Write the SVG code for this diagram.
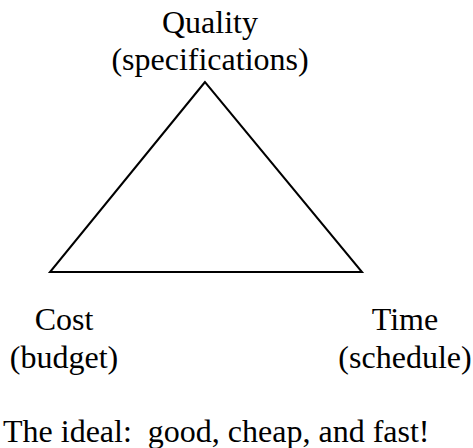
<svg xmlns="http://www.w3.org/2000/svg" width="473" height="448" viewBox="0 0 473 448" font-family="'Liberation Serif', 'DejaVu Serif', 'Times New Roman', Times, serif">
  <style>
    text { font-family: "Liberation Serif", "DejaVu Serif", "Times New Roman", Times, serif; font-size: 32px; fill: #000; }
    .mid { text-anchor: middle; }
    .edge { stroke: #000; stroke-width: 2; fill: none; stroke-linejoin: miter; }
  </style>
  <rect width="473" height="448" fill="#fff"/>
  <g id="connectors">
    <polygon class="edge" points="205,82 50,272 362,272"/>
  </g>
  <g id="quality">
    <text class="mid" x="210" y="33">Quality</text>
    <text class="mid" x="210" y="70">(specifications)</text>
  </g>
  <g id="cost">
    <text class="mid" x="64" y="330">Cost</text>
    <text class="mid" x="64" y="368">(budget)</text>
  </g>
  <g id="time">
    <text class="mid" x="405" y="330">Time</text>
    <text class="mid" x="405" y="368">(schedule)</text>
  </g>
  <g id="caption">
    <text x="3" y="442" xml:space="preserve">The ideal:  good, cheap, and fast!</text>
  </g>
</svg>
